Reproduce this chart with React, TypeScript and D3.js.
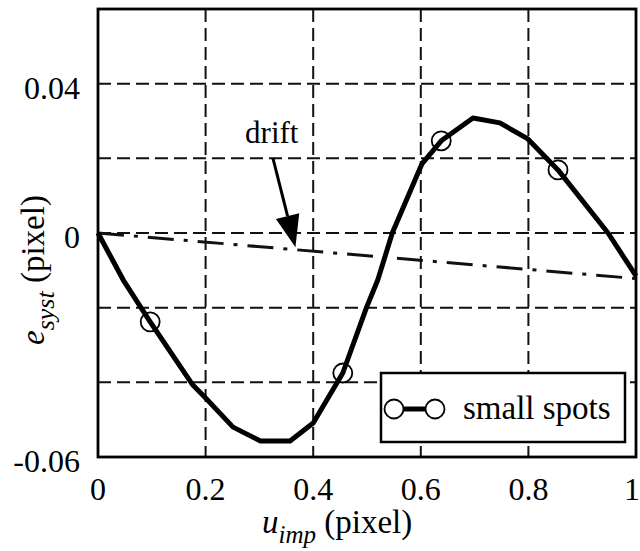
import React from "react";
import * as d3 from "d3";

// ---- data ----
const curveX = [0, 0.047, 0.097, 0.175, 0.2, 0.251, 0.302, 0.357, 0.4, 0.455, 0.499, 0.52, 0.547, 0.602, 0.638, 0.697, 0.747, 0.799, 0.855, 0.948, 1];
const curveY = [0, -0.0126, -0.0238, -0.0405, -0.0442, -0.052, -0.0557, -0.0557, -0.0509, -0.0375, -0.02, -0.0126, 0, 0.0185, 0.0247, 0.0308, 0.0295, 0.0252, 0.0169, 0, -0.0115];
const markerX = [0.097, 0.455, 0.638, 0.855];
const markerY = [-0.0238, -0.0375, 0.0247, 0.0169];
const driftX = [0, 1];
const driftY = [0, -0.0122];
const xTicks = [0, 0.2, 0.4, 0.6, 0.8, 1];
const xTickLabels = ["0", "0.2", "0.4", "0.6", "0.8", "1"];
const yGrid = [-0.04, -0.02, 0, 0.02, 0.04];
const yTicks = [0.04, 0, -0.06];
const yTickLabels = ["0.04", "0", "-0.06"];
const legendLabel = "small spots";
const annotationText = "drift";
const arrowFrom = [0.325, 0.0201];
const arrowTo = [0.367, -0.0038];
const annotationPos = [0.323, 0.0241];

const W = 640;
const H = 551;
const FONT = "Liberation Serif, Times New Roman, Times, Tinos, Noto Serif, DejaVu Serif, FreeSerif, serif";

export default function App() {
  const x = d3.scaleLinear().domain([0, 1]).range([98, 636]);
  const y = d3.scaleLinear().domain([-0.06, 0.06]).range([457, 9]);
  const left = x(0), right = x(1), top = y(0.06), bottom = y(-0.06);

  const curvePts: [number, number][] = curveX.map((v, i) => [v, curveY[i]]);
  const driftPts: [number, number][] = driftX.map((v, i) => [v, driftY[i]]);
  const line = d3.line<[number, number]>().x(d => x(d[0])).y(d => y(d[1])).curve(d3.curveLinear);

  // arrow
  const ax0 = x(arrowFrom[0]), ay0 = y(arrowFrom[1]);
  const ax1 = x(arrowTo[0]), ay1 = y(arrowTo[1]);
  const len = Math.hypot(ax1 - ax0, ay1 - ay0);
  const ux = (ax1 - ax0) / len, uy = (ay1 - ay0) / len;
  const headL = 32, headW = 12;
  const bx = ax1 - ux * headL, by = ay1 - uy * headL;
  const headPts = `${ax1},${ay1} ${bx + uy * headW},${by - ux * headW} ${bx - uy * headW},${by + ux * headW}`;

  // legend
  const lgX = 381, lgY = 373, lgW = 244, lgH = 69;

  return (
    <svg width={W} height={H} style={{ position: "absolute", left: 0, top: 0, background: "#fff" }}>
      <rect x={0} y={0} width={W} height={H} fill="#fff" />
      {/* grid */}
      {xTicks.slice(1, -1).map((t, i) => (
        <line key={"gx" + i} x1={x(t)} x2={x(t)} y1={top} y2={bottom} stroke="#111" strokeWidth={2} strokeDasharray="13,6" />
      ))}
      {yGrid.map((t, i) => (
        <line key={"gy" + i} x1={left} x2={right} y1={y(t)} y2={y(t)} stroke="#111" strokeWidth={2} strokeDasharray="13,6" />
      ))}
      {/* drift */}
      <path d={line(driftPts) || ""} fill="none" stroke="#111" strokeWidth={3} strokeDasharray="26,10,4,10" />
      {/* main curve */}
      <path d={line(curvePts) || ""} fill="none" stroke="#000" strokeWidth={5} strokeLinejoin="round" />
      {markerX.map((v, i) => (
        <circle key={"m" + i} cx={x(v)} cy={y(markerY[i])} r={9.5} fill="none" stroke="#000" strokeWidth={1.8} />
      ))}
      {/* frame */}
      <rect x={left} y={top} width={right - left} height={bottom - top} fill="none" stroke="#000" strokeWidth={2.8} />
      <g fontFamily={FONT} fill="#000">
        {/* annotation */}
        <text x={x(annotationPos[0])} y={y(annotationPos[1])} fontSize={31} textAnchor="middle">{annotationText}</text>
        {/* tick labels */}
        {xTicks.map((t, i) => (
          <text key={"xt" + i} x={i === xTicks.length - 1 ? 640 : x(t)} y={500} fontSize={32} textAnchor={i === xTicks.length - 1 ? "end" : "middle"}>{xTickLabels[i]}</text>
        ))}
        {yTicks.map((t, i) => (
          <text key={"yt" + i} x={80} y={y(t) + 15} fontSize={32} textAnchor="end">{yTickLabels[i]}</text>
        ))}
        {/* axis titles */}
        <text x={262} y={533} fontSize={33}>
          <tspan fontStyle="italic">u</tspan>
          <tspan fontStyle="italic" fontSize={25} dy={10}>imp</tspan>
          <tspan dy={-10}> (pixel)</tspan>
        </text>
        <text transform="translate(44, 345) rotate(-90)" fontSize={33}>
          <tspan fontStyle="italic">e</tspan>
          <tspan fontStyle="italic" fontSize={26} dy={10}>syst</tspan>
          <tspan dy={-10}> (pixel)</tspan>
        </text>
      </g>
      <line x1={ax0} y1={ay0} x2={bx} y2={by} stroke="#000" strokeWidth={3} />
      <polygon points={headPts} fill="#000" />
      {/* legend */}
      <rect x={lgX} y={lgY} width={lgW} height={lgH} fill="#fff" stroke="#000" strokeWidth={2.5} />
      <line x1={394 + 9} x2={435 - 9} y1={409} y2={409} stroke="#000" strokeWidth={5} />
      <circle cx={394} cy={409} r={9.5} fill="none" stroke="#000" strokeWidth={1.8} />
      <circle cx={435} cy={409} r={9.5} fill="none" stroke="#000" strokeWidth={1.8} />
      <text x={463} y={419} fontSize={33} fill="#000" fontFamily={FONT}>{legendLabel}</text>
    </svg>
  );
}
